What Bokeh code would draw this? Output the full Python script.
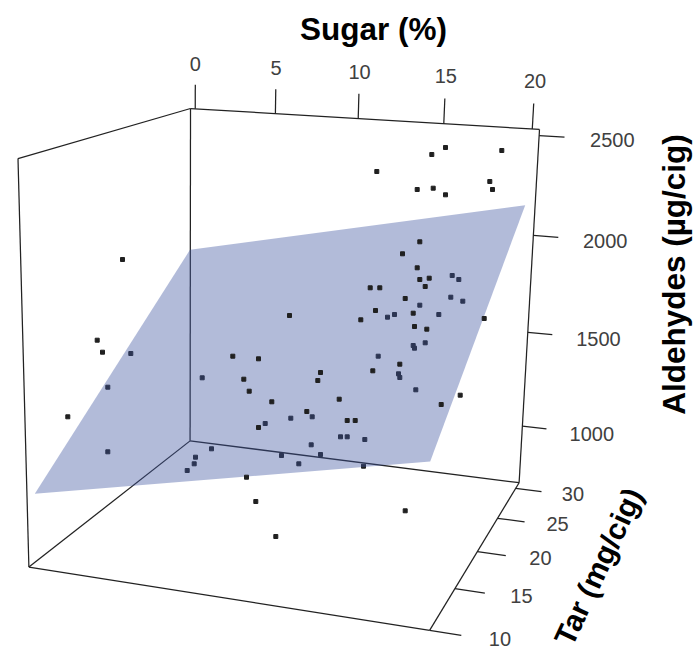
import numpy as np
from bokeh.core.properties import value
from bokeh.embed import file_html
from bokeh.models import ColumnDataSource, Range1d
from bokeh.plotting import figure
from bokeh.resources import INLINE

# Axis values
sugar_ticks = [0, 5, 10, 15, 20]
tar_ticks = [10, 15, 20, 25, 30]
aldehyde_ticks = [1000, 1500, 2000, 2500]
sugar_limits = (-0.3, 20.4)
tar_limits = (10.0, 31.0)
aldehyde_limits = (690.0, 2530.0)

# Picture positions of the seven visible box corners (projection calibration)
box_world = [
    (0, 1, 1), (1, 1, 1), (0, 1, 0), (1, 1, 0), (0, 0, 1), (0, 0, 0), (1, 0, 0),
]
box_picture = [
    (190, 108), (539, 129), (189.5, 440.5), (518.7, 482), (17.5, 158), (28.5, 566.5), (429, 630),
]

# Regression plane, as read in picture coordinates
plane_x = [189.5, 524.7, 429.7, 34.3]
plane_y = [249.3, 204.7, 461.0, 493.3]

# Points (the third dimension cannot be recovered from a 2D view)
behind_x = [451.7, 458.3, 450.3, 462.3, 419.3, 394, 387, 438.3, 424.7, 412.7, 414, 377.7, 398, 399.3,
            415.3, 130.3, 107.3, 107.3, 201.7, 264.7, 290.3, 311.7, 340, 346.7, 310.7, 281, 320,
            298.3, 363, 211, 195, 193.7, 186.7, 364.3]
behind_y = [275, 279, 296.7, 300.7, 304.7, 314, 316.7, 314, 342.3, 345, 347.7, 355.7, 373.3, 377,
            389.3, 353, 386.7, 451.3, 377.3, 423, 417.7, 416.3, 436.3, 436.3, 444.3, 455, 454,
            463.3, 465.7, 448.3, 456.7, 463.3, 470, 439]
front_x = [122, 289, 445, 431.3, 501.3, 376.3, 416.7, 432.7, 445, 489.3, 492, 419.3, 402, 416.7, 419.3,
           428.7, 424.7, 369.7, 379.3, 404.7, 375, 360.3, 412.7, 483.7, 414, 426.3, 399.3, 372.3,
           459.7, 440.7, 354.7, 346.7, 404.7, 96.7, 102, 67.3, 232.3, 258, 243.3, 248.7, 320, 317.3,
           271.3, 338.7, 306.3, 258, 246, 255.3, 275.3]
front_y = [259, 315, 147, 154, 150, 171, 189, 187.7, 194.3, 181, 189, 241.3, 253.3, 267.3, 279,
           277.7, 286, 287.3, 287.3, 298, 310, 319.3, 312.7, 318, 326, 328.7, 363.7, 370.3,
           394.7, 404, 420, 420, 510.3, 339.7, 351.7, 416.3, 355.7, 358.3, 378.7, 390.7, 372, 380,
           401.3, 398.7, 411, 427, 476.7, 501, 536]


def unit(v, lim):
    return (v - lim[0]) / (lim[1] - lim[0])


def fit_projection():
    rows = []
    for (a, b, c), (u, v) in zip(box_world, box_picture):
        rows.append([a, b, c, 1, 0, 0, 0, 0, -u * a, -u * b, -u * c, -u])
        rows.append([0, 0, 0, 0, a, b, c, 1, -v * a, -v * b, -v * c, -v])
    return np.linalg.svd(np.array(rows, float))[2][-1].reshape(3, 4)


H = fit_projection()


def project(sugar, tar, aldehyde):
    w = H @ np.array([unit(sugar, sugar_limits), unit(tar, tar_limits), unit(aldehyde, aldehyde_limits), 1.0])
    return w[0] / w[2], w[1] / w[2]


s0, s1 = sugar_limits
t0, t1 = tar_limits
a0, a1 = aldehyde_limits

edges = [
    ((s0, t1, a1), (s0, t1, a0)), ((s0, t1, a1), (s1, t1, a1)), ((s0, t0, a1), (s0, t1, a1)),
    ((s0, t0, a1), (s0, t0, a0)), ((s0, t0, a0), (s0, t1, a0)), ((s0, t1, a0), (s1, t1, a0)),
    ((s0, t0, a0), (s1, t0, a0)), ((s1, t0, a0), (s1, t1, a0)), ((s1, t1, a1), (s1, t1, a0)),
]
segments = list(edges)
labels = []
for s in sugar_ticks:
    segments.append(((s, t1, a1), (s, t1, a1 + 125)))
    labels.append((project(s, t1, a1 + 235), str(s)))
for t in tar_ticks:
    segments.append(((s1, t, a0), (s1 + 1.5, t, a0)))
    labels.append((project(s1 + 3.3, t, a0 + 10), str(t)))
for a in aldehyde_ticks:
    segments.append(((s1, t1, a), (s1 + 1.4, t1, a)))
    labels.append((project(s1 + 4.0, t1, a), str(a)))

xs, ys = [], []
for start, end in segments:
    x0, y0 = project(*start)
    x1, y1 = project(*end)
    xs.append([x0, x1])
    ys.append([y0, y1])

p = figure(width=693, height=649, x_range=Range1d(0, 693), y_range=Range1d(649, 0),
           x_axis_type=None, y_axis_type=None, output_backend="svg", toolbar_location=None,
           min_border=0, background_fill_color="white", border_fill_color="white")
p.grid.visible = False
p.outline_line_color = None

p.multi_line(xs, ys, line_color="#222222", line_width=1.25)
p.scatter(behind_x, behind_y, marker="square", size=4, color="#202020")
p.patch(plane_x, plane_y, fill_color="#3E55A0", fill_alpha=0.4, line_color=None)
p.scatter(front_x, front_y, marker="square", size=4, color="#202020")

label_src = ColumnDataSource(dict(x=[l[0][0] for l in labels], y=[l[0][1] for l in labels],
                                  t=[l[1] for l in labels]))
p.text("x", "y", "t", source=label_src, text_font=value("Liberation Sans"), text_font_size="20px",
       text_color="#404040", text_align="center", text_baseline="middle")

p.text([373], [28], ["Sugar (%)"], text_font=value("Liberation Sans"), text_font_style="bold",
       text_font_size="31.5px", text_color="black", text_align="center", text_baseline="middle")
p.text([673], [274], ["Aldehydes (µg/cig)"], angle=90, angle_units="deg",
       text_font=value("Liberation Sans"), text_font_style="bold",
       text_font_size="31.5px", text_color="black", text_align="center", text_baseline="middle")
p.text([598], [566], ["Tar (mg/cig)"], angle=65, angle_units="deg",
       text_font=value("Liberation Sans"), text_font_style="bold",
       text_font_size="30px", text_color="black", text_align="center", text_baseline="middle")

open("out.html", "w").write(file_html(p, INLINE))
